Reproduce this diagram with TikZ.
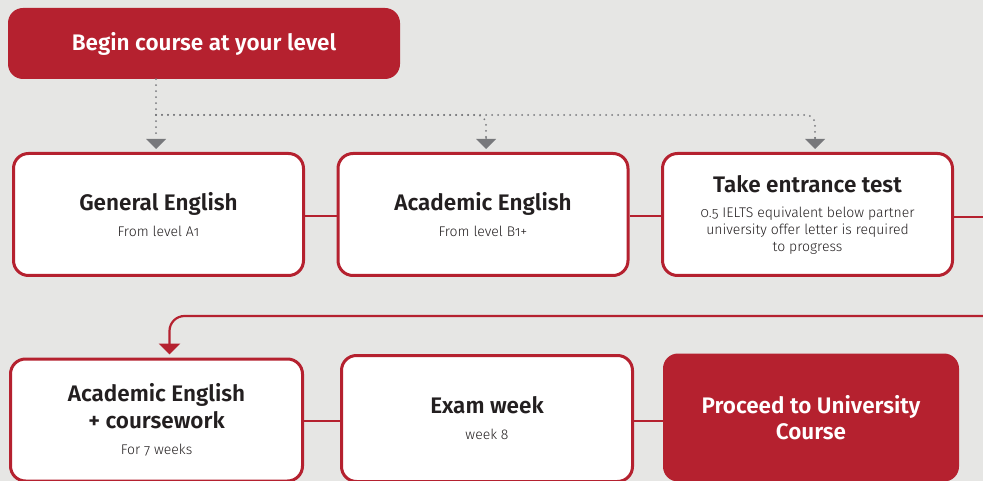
\documentclass[tikz,border=0pt]{standalone}
\usepackage{fontspec}
\setmainfont{Fira Sans}[BoldFont={Fira Sans SemiBold}]
\newfontfamily\lightf{Fira Sans Light}[Numbers=OldStyle]
\usetikzlibrary{arrows.meta,calc}
\definecolor{brand}{HTML}{B5212F}
\definecolor{bg}{HTML}{E6E6E4}
\definecolor{ink}{HTML}{231F20}
\definecolor{dotgray}{HTML}{77787B}
\tikzset{
  stepbox/.style={draw=brand, line width=3pt, fill=white, rounded corners=15pt,
    minimum width=290pt, minimum height=122pt, inner sep=0pt, align=center,
    text=ink, font=\bfseries\fontsize{22.5}{27}\selectfont},
  redbox/.style={fill=brand, rounded corners=15pt, inner sep=0pt, align=center,
    text=white, font=\bfseries\fontsize{22.5}{26}\selectfont},
  dotline/.style={draw=dotgray, line width=2pt, line cap=round,
    dash pattern=on 0pt off 6pt},
  dotarrow/.style={dotline, -{Triangle[width=20pt,length=10pt,fill=dotgray,line width=0pt]}},
  link/.style={draw=brand, line width=2.2pt},
  redarrow/.style={link, rounded corners=15pt, -{Triangle[width=21pt,length=11pt]}}
}
\newcommand{\subf}{\mdseries\lightf\fontsize{14}{17}\selectfont}
\begin{document}
\begin{tikzpicture}[x=1pt,y=-1pt]
\fill[bg] (0,0) rectangle (983,481);
\useasboundingbox (0,0) rectangle (983,481);

\node[redbox, minimum width=392pt, minimum height=71pt] (begin) at (204,43.5) {Begin course at your level};

\node[stepbox] (ge) at (158.5,214.5) {General English\\[-1pt]\subf From level A1};
\node[stepbox] (ae) at (483,214.5) {Academic English\\[-1pt]\subf From level B1+};
\node[stepbox] (tet) at (807.5,214.5) {Take entrance test\\[-2pt]\subf 0.5 IELTS equivalent below partner\\[-10pt]\subf university offer letter is required\\[-10pt]\subf to progress};

\node[stepbox, minimum width=292pt] (aec) at (156.5,420) {Academic English\\+ coursework\\[-1pt]\subf For 7 weeks};
\node[stepbox, minimum width=291pt, minimum height=126pt] (exam) at (487,418.5) {Exam week\\[-1pt]\subf week 8};
\node[redbox, minimum width=296pt, minimum height=128pt] (proceed) at (811,417.5) {Proceed to University\\Course};

% dotted connectors
\coordinate (hub) at (156,115);
\coordinate (aeIn) at ([xshift=3pt]ae.north);
\coordinate (tetIn) at ([xshift=7.5pt]tet.north);
\draw[dotarrow] (begin.south -| hub) -- ([yshift=3pt]ge.north -| hub);
\draw[dotline, rounded corners=9pt] (hub) -| ([yshift=14pt]aeIn);
\draw[dotarrow] ([yshift=14pt]aeIn) -- ([yshift=3pt]aeIn);
\draw[dotline, rounded corners=9pt] (hub) -| ([yshift=14pt]tetIn);
\draw[dotarrow] ([yshift=14pt]tetIn) -- ([yshift=3pt]tetIn);

% red connectors
\coordinate (outR) at (984,217);
\coordinate (backR) at (984,316);
\coordinate (aecIn) at ([xshift=13pt]aec.north);
\draw[link] ([yshift=-1.5pt]ge.east) -- ([yshift=-1.5pt]ae.west);
\draw[link] ([yshift=-1.5pt]ae.east) -- ([yshift=-1.5pt]tet.west);
\draw[link] (tet.east |- outR) -- (outR);
\draw[redarrow] (backR) -| ([yshift=3pt]aecIn);
\draw[link] ([yshift=-1pt]aec.east) -- ([yshift=-1pt]aec.east -| exam.west);
\draw[link] ([yshift=-2.5pt]exam.east) -- ([yshift=-2.5pt]exam.east -| proceed.west);
\end{tikzpicture}
\end{document}
